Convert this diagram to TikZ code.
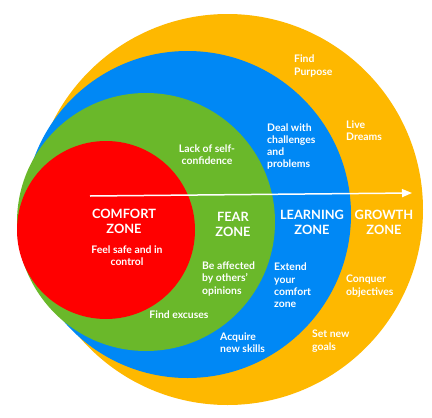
\documentclass[tikz,border=0pt]{standalone}
\usepackage{fontspec}
\setmainfont{Lato}
\usetikzlibrary{arrows.meta}
\definecolor{czred}{RGB}{255,0,0}
\definecolor{czgreen}{RGB}{106,184,42}
\definecolor{czblue}{RGB}{0,136,245}
\definecolor{czorange}{RGB}{254,184,0}
\begin{document}
\begin{tikzpicture}[x=1pt,y=-1pt,
  big/.style={text=white,font=\fontsize{12.8}{15}\selectfont\bfseries,align=center,inner sep=0pt},
  small/.style={text=white,font=\fontsize{10.4}{12.3}\selectfont\bfseries,inner sep=0pt},
  lsmall/.style={small,align=left,anchor=west},
  csmall/.style={small,align=center}]
\useasboundingbox (0,0) rectangle (432,418);
\fill[white] (0,0) rectangle (432,418);
% zones
\fill[czorange] (227.5,209.5) circle[radius=195.5];
\fill[czblue] (187.5,214.5) circle[radius=163.5];
\fill[czgreen] (146,222) circle[radius=129];
\fill[czred] (106,230) circle[radius=89];
% arrow
\coordinate (arrS) at (90,196);
\coordinate (arrE) at (412,193);
\draw[white,line width=1.5pt,-{Triangle[length=10pt,width=8pt]}] (arrS) -- (arrE);
% titles
\node[big] (comfort) at (124,221.5) {COMFORT\\ZONE};
\node[big] (fear) at (233,224.5) {FEAR\\ZONE};
\node[big] (learning) at (312,222.5) {LEARNING\\ZONE};
\node[big] (growth) at (384,222.5) {GROWTH\\ZONE};
% texts
\node[csmall] (safe) at (127,255.5) {Feel safe and in\\control};
\node[csmall] (lack) at (207,154.5) {Lack of self-\\confidence};
\node[lsmall] (affected) at (202,279) {Be affected\\by others’\\opinions};
\node[csmall] (excuses) at (179,315) {Find excuses};
\node[lsmall] (deal) at (267,146.5) {Deal with\\challenges\\and\\problems};
\node[lsmall] (extend) at (274,285.5) {Extend\\your\\comfort\\zone};
\node[lsmall] (acquire) at (220,343) {Acquire\\new skills};
\node[lsmall] (purpose) at (294,66) {Find\\Purpose};
\node[lsmall] (dreams) at (346,131) {Live\\Dreams};
\node[lsmall] (conquer) at (346,286) {Conquer\\objectives};
\node[lsmall] (goals) at (312,341) {Set new\\goals};
\end{tikzpicture}
\end{document}
